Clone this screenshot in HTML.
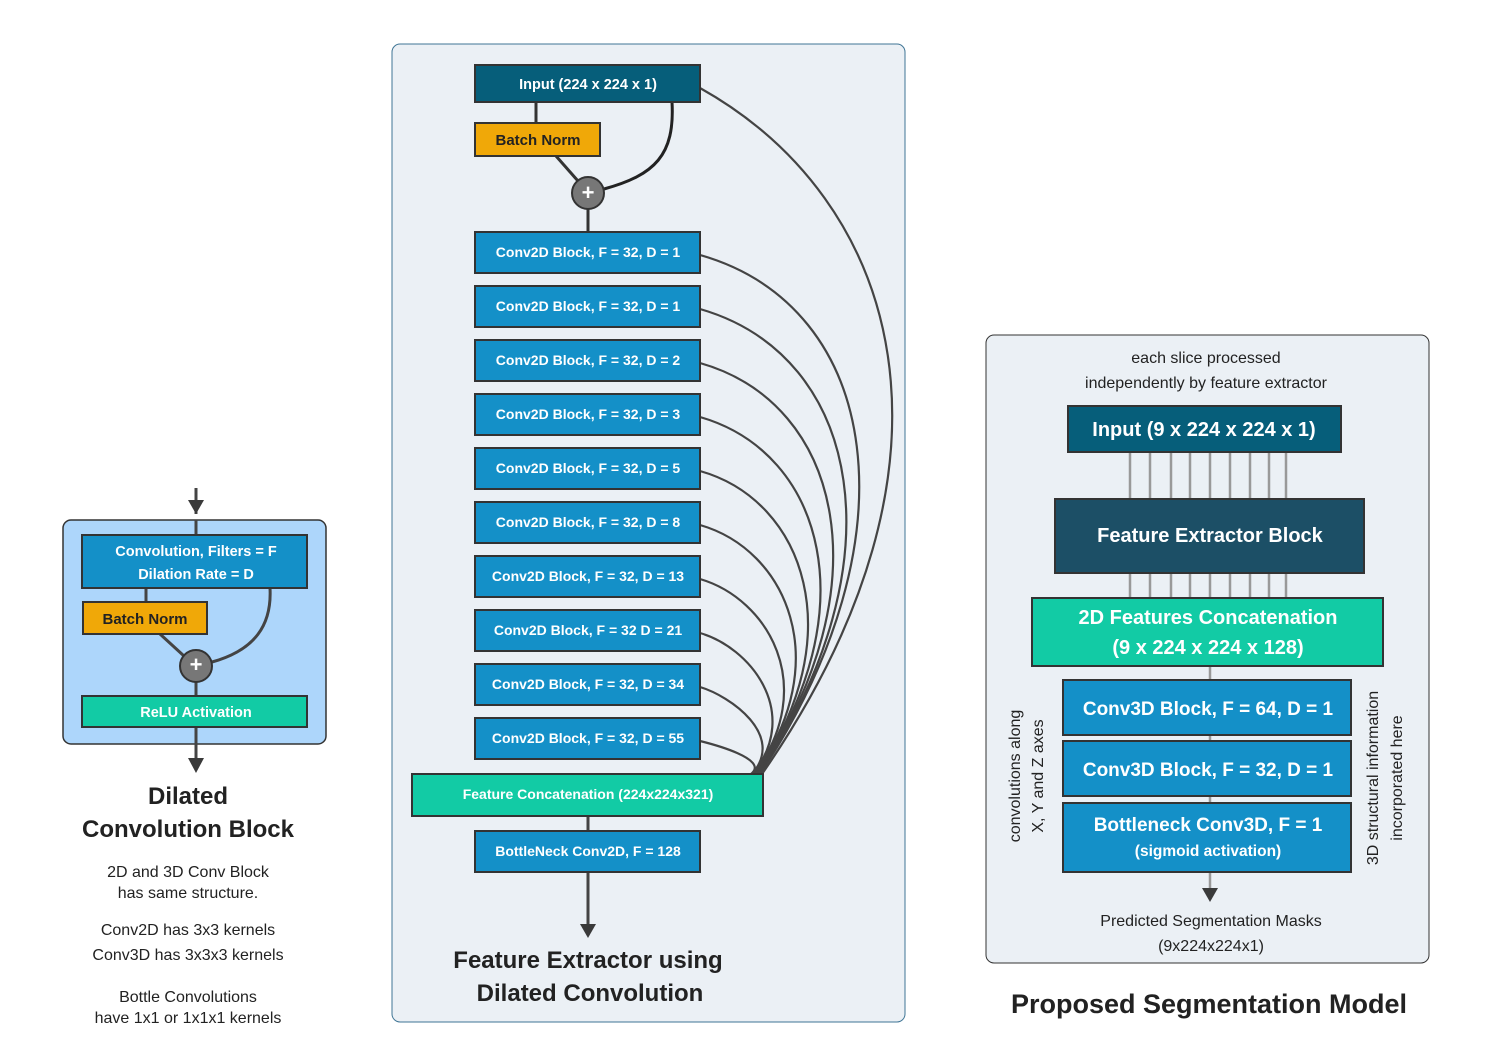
<!DOCTYPE html>
<html><head><meta charset="utf-8"><style>
body{margin:0;background:#fff}
svg{display:block;font-family:"Liberation Sans",sans-serif}
</style></head><body>
<svg width="1500" height="1050" viewBox="0 0 1500 1050" xmlns="http://www.w3.org/2000/svg">
<g stroke="#333" stroke-width="2">
<!-- Left block -->
<line x1="196" y1="488" x2="196" y2="514" stroke="#444" stroke-width="3"/>
<path d="M188,500 L204,500 L196,514 z" fill="#3a3a3a" stroke="none"/>
<rect x="63" y="520" width="263" height="224" rx="8" fill="#add6fb" stroke="#333" stroke-width="1.5"/>
<line x1="196" y1="520" x2="196" y2="535" stroke="#444" stroke-width="3"/>
<line x1="146" y1="588" x2="146" y2="602" stroke="#444" stroke-width="3"/>
<path d="M270,588 C272,625 255,650 212,662" fill="none" stroke="#444" stroke-width="3"/>
<line x1="160" y1="634" x2="184" y2="656" stroke="#444" stroke-width="3"/>
<line x1="196" y1="682" x2="196" y2="696" stroke="#444" stroke-width="3"/>
<line x1="196" y1="727" x2="196" y2="760" stroke="#444" stroke-width="3"/>
<path d="M188,758 L204,758 L196,773 z" fill="#3a3a3a" stroke="none"/>
<rect x="82" y="535" width="225" height="53" fill="#1490c8"/>
<rect x="83" y="602" width="124" height="32" fill="#f0a808"/>
<circle cx="196" cy="666" r="16" fill="#777"/>
<rect x="82" y="696" width="225" height="31" fill="#12cba5"/>

<!-- Middle panel -->
<rect x="392" y="44" width="513" height="978" rx="8" fill="#ebf0f5" stroke="#3f7595" stroke-width="1"/>
<g fill="none" stroke="#444" stroke-width="2.2">
<path d="M700,88 C900,200 980,460 762,774"/>
<path d="M700,255 C882,307 916,540 760,774"/>
<path d="M700,309 C863,356 900,565 759,774"/>
<path d="M700,363 C844,404 883,589 758,774"/>
<path d="M700,417 C825,453 867,613 757,774"/>
<path d="M700,471 C806,501 851,638 756,774"/>
<path d="M700,525 C787,550 835,662 755,774"/>
<path d="M700,579 C768,599 819,686 754,774"/>
<path d="M700,633 C749,647 802,711 753,774"/>
<path d="M700,687 C730,696 786,735 752,774"/>
<path d="M700,741 C712,744 770,759 751,774"/>
</g>
<line x1="536" y1="102" x2="536" y2="123" stroke="#333" stroke-width="3"/>
<path d="M672,102 C675,155 655,175 604,189" fill="none" stroke="#222" stroke-width="3"/>
<line x1="556" y1="156" x2="578" y2="181" stroke="#333" stroke-width="3"/>
<line x1="588" y1="209" x2="588" y2="232" stroke="#333" stroke-width="3"/>
<line x1="588" y1="816" x2="588" y2="831" stroke="#444" stroke-width="3"/>
<line x1="588" y1="872" x2="588" y2="925" stroke="#444" stroke-width="3"/>
<path d="M580,924 L596,924 L588,938 z" fill="#3a3a3a" stroke="none"/>
<rect x="475" y="65" width="225" height="37" fill="#065e7a"/>
<rect x="475" y="123" width="125" height="33" fill="#f0a808"/>
<circle cx="588" cy="193" r="16" fill="#777"/>
<g fill="#1490c8">
<rect x="475" y="232" width="225" height="41"/>
<rect x="475" y="286" width="225" height="41"/>
<rect x="475" y="340" width="225" height="41"/>
<rect x="475" y="394" width="225" height="41"/>
<rect x="475" y="448" width="225" height="41"/>
<rect x="475" y="502" width="225" height="41"/>
<rect x="475" y="556" width="225" height="41"/>
<rect x="475" y="610" width="225" height="41"/>
<rect x="475" y="664" width="225" height="41"/>
<rect x="475" y="718" width="225" height="41"/>
<rect x="475" y="831" width="225" height="41"/>
</g>
<rect x="412" y="774" width="351" height="42" fill="#12cba5"/>

<!-- Right panel -->
<rect x="986" y="335" width="443" height="628" rx="8" fill="#ebf0f5" stroke="#333" stroke-width="1"/>
<g stroke="#999" stroke-width="2.5">
<line x1="1130" y1="452" x2="1130" y2="499"/><line x1="1150" y1="452" x2="1150" y2="499"/><line x1="1171" y1="452" x2="1171" y2="499"/><line x1="1190" y1="452" x2="1190" y2="499"/><line x1="1210" y1="452" x2="1210" y2="499"/><line x1="1230" y1="452" x2="1230" y2="499"/><line x1="1250" y1="452" x2="1250" y2="499"/><line x1="1269" y1="452" x2="1269" y2="499"/><line x1="1286" y1="452" x2="1286" y2="499"/>
<line x1="1130" y1="573" x2="1130" y2="598"/><line x1="1150" y1="573" x2="1150" y2="598"/><line x1="1171" y1="573" x2="1171" y2="598"/><line x1="1190" y1="573" x2="1190" y2="598"/><line x1="1210" y1="573" x2="1210" y2="598"/><line x1="1230" y1="573" x2="1230" y2="598"/><line x1="1250" y1="573" x2="1250" y2="598"/><line x1="1269" y1="573" x2="1269" y2="598"/><line x1="1286" y1="573" x2="1286" y2="598"/>
<line x1="1210" y1="666" x2="1210" y2="890"/>
</g>
<path d="M1202,888 L1218,888 L1210,902 z" fill="#3a3a3a" stroke="none"/>
<rect x="1068" y="406" width="273" height="46" fill="#065e7a"/>
<rect x="1055" y="499" width="309" height="74" fill="#1c4f66"/>
<rect x="1032" y="598" width="351" height="68" fill="#12cba5"/>
<rect x="1063" y="680" width="288" height="55" fill="#1490c8"/>
<rect x="1063" y="741" width="288" height="55" fill="#1490c8"/>
<rect x="1063" y="803" width="288" height="69" fill="#1490c8"/>
</g>

<!-- Text -->
<g fill="#fff" font-weight="bold" text-anchor="middle">
<text x="196" y="556" font-size="14.5">Convolution, Filters = F</text>
<text x="196" y="579" font-size="14.5">Dilation Rate = D</text>
<text x="145" y="624" font-size="15" fill="#222">Batch Norm</text>
<text x="196" y="672" font-size="22">+</text>
<text x="196" y="717" font-size="14.5">ReLU Activation</text>

<text x="588" y="89" font-size="14.5">Input (224 x 224 x 1)</text>
<text x="538" y="145" font-size="15" fill="#222">Batch Norm</text>
<text x="588" y="200" font-size="22">+</text>
<g font-size="14">
<text x="588" y="257">Conv2D Block, F = 32, D = 1</text>
<text x="588" y="311">Conv2D Block, F = 32, D = 1</text>
<text x="588" y="365">Conv2D Block, F = 32, D = 2</text>
<text x="588" y="419">Conv2D Block, F = 32, D = 3</text>
<text x="588" y="473">Conv2D Block, F = 32, D = 5</text>
<text x="588" y="527">Conv2D Block, F = 32, D = 8</text>
<text x="588" y="581">Conv2D Block, F = 32, D = 13</text>
<text x="588" y="635">Conv2D Block, F = 32 D = 21</text>
<text x="588" y="689">Conv2D Block, F = 32, D = 34</text>
<text x="588" y="743">Conv2D Block, F = 32, D = 55</text>
<text x="588" y="799">Feature Concatenation (224x224x321)</text>
<text x="588" y="856">BottleNeck Conv2D, F = 128</text>
</g>

<text x="1204" y="436" font-size="20">Input (9 x 224 x 224 x 1)</text>
<text x="1210" y="542" font-size="20">Feature Extractor Block</text>
<text x="1208" y="624" font-size="20">2D Features Concatenation</text>
<text x="1208" y="654" font-size="20">(9 x 224 x 224 x 128)</text>
<text x="1208" y="715" font-size="19">Conv3D Block, F = 64, D = 1</text>
<text x="1208" y="776" font-size="19">Conv3D Block, F = 32, D = 1</text>
<text x="1208" y="831" font-size="19">Bottleneck Conv3D, F = 1</text>
<text x="1208" y="856" font-size="15.5">(sigmoid activation)</text>
</g>

<g fill="#222" text-anchor="middle">
<text x="188" y="804" font-size="24" font-weight="bold">Dilated</text>
<text x="188" y="837" font-size="24" font-weight="bold">Convolution Block</text>
<g font-size="16">
<text x="188" y="877">2D and 3D Conv Block</text>
<text x="188" y="898">has same structure.</text>
<text x="188" y="935">Conv2D has 3x3 kernels</text>
<text x="188" y="960">Conv3D has 3x3x3 kernels</text>
<text x="188" y="1002">Bottle Convolutions</text>
<text x="188" y="1023">have 1x1 or 1x1x1 kernels</text>
</g>
<text x="588" y="968" font-size="24" font-weight="bold">Feature Extractor using</text>
<text x="590" y="1001" font-size="24" font-weight="bold">Dilated Convolution</text>
<text x="1206" y="363" font-size="16">each slice processed</text>
<text x="1206" y="388" font-size="16">independently by feature extractor</text>
<text x="1211" y="926" font-size="16">Predicted Segmentation Masks</text>
<text x="1211" y="951" font-size="16">(9x224x224x1)</text>
<text x="1209" y="1013" font-size="27" font-weight="bold">Proposed Segmentation Model</text>
<g font-size="16">
<text transform="translate(1020,776) rotate(-90)">convolutions along</text>
<text transform="translate(1043,776) rotate(-90)">X, Y and Z axes</text>
<text transform="translate(1378,778) rotate(-90)">3D structural information</text>
<text transform="translate(1402,778) rotate(-90)">incorporated here</text>
</g>
</g>
</svg>
</body></html>
